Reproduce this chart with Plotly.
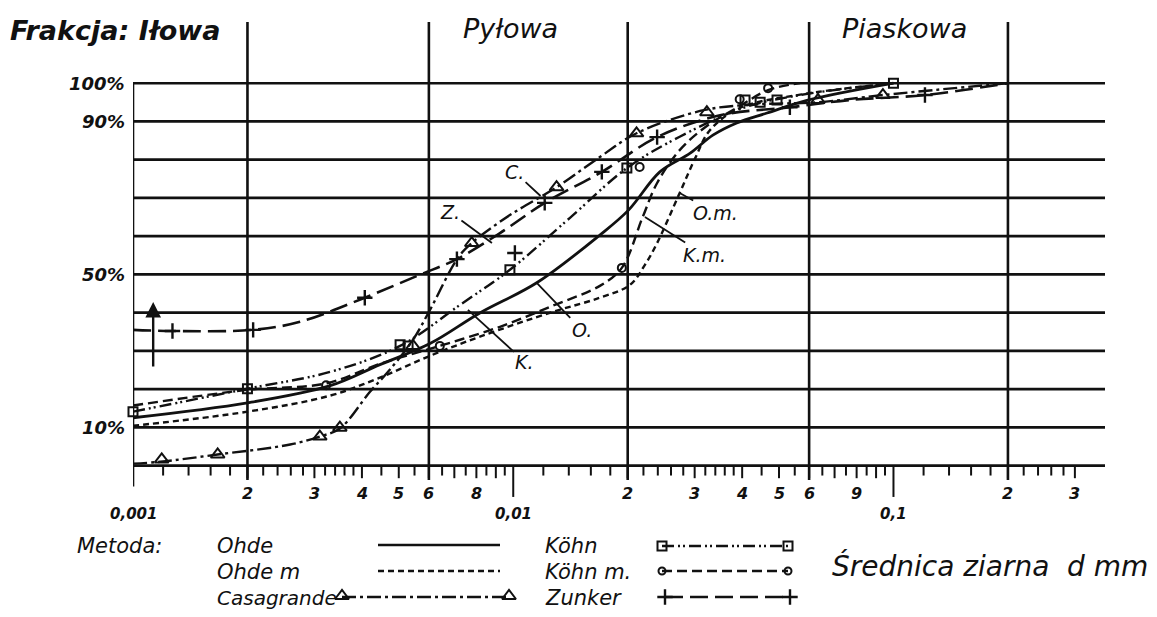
import math
import plotly.graph_objects as go

# ---------------- data: grain diameter d [mm] vs. percent finer [%] ----------------
ohde_d = [0.001, 0.002, 0.0033, 0.00446, 0.00604, 0.00817, 0.01153, 0.0169, 0.0201, 0.0243, 0.0292, 0.0335, 0.0387, 0.0465, 0.0592, 0.1]
ohde_p = [12.5, 16.4, 20.9, 26.4, 31.9, 39.9, 47.8, 60.3, 66.8, 76.8, 81.7, 86.4, 89.6, 92.2, 95.5, 100]

ohdem_d = [0.001, 0.002, 0.0033, 0.00446, 0.00604, 0.00817, 0.0127, 0.0169, 0.0203, 0.0222, 0.0239, 0.0274, 0.0301, 0.0329, 0.0394, 0.0568, 0.1]
ohdem_p = [10.4, 14.1, 18.3, 23.0, 28.7, 33.7, 40.2, 43.9, 47.3, 52.5, 58.2, 71.3, 80.4, 87.7, 93.5, 97.0, 100]

casa_d = [0.001, 0.00118, 0.00167, 0.00259, 0.0031, 0.0035, 0.0042, 0.00474, 0.00545, 0.00604, 0.00715, 0.00778, 0.0098, 0.0130, 0.0169, 0.0211, 0.0319, 0.0446, 0.0633, 0.0938, 0.2]
casa_p = [0.5, 1.0, 2.9, 5.5, 7.6, 9.7, 19.3, 25.1, 32.9, 40.7, 54.3, 58.2, 65.5, 72.8, 80.7, 86.9, 93.0, 94.5, 95.0, 96.9, 100]
casa_mk_d = [0.00119, 0.00167, 0.0031, 0.0035, 0.00545, 0.00778, 0.0130, 0.0211, 0.0323, 0.0633, 0.0938]
casa_mk_p = [1.6, 2.9, 7.6, 9.9, 31.3, 58.2, 72.8, 86.9, 92.4, 95.6, 96.9]

kohn_d = [0.001, 0.002, 0.0033, 0.00504, 0.00724, 0.0098, 0.0141, 0.0199, 0.0274, 0.0407, 0.0568, 0.1]
kohn_p = [14.1, 20.1, 24.5, 31.3, 42.0, 51.2, 64.8, 77.8, 86.0, 93.7, 96.9, 100]
kohn_mk_d = [0.001, 0.002, 0.00504, 0.00529, 0.0098, 0.0199, 0.0407, 0.0446, 0.0494, 0.1]
kohn_mk_p = [14.1, 20.1, 31.6, 31.3, 51.2, 77.8, 95.6, 95.0, 95.6, 100]

kohnm_d = [0.001, 0.002, 0.00322, 0.00446, 0.00641, 0.00923, 0.0127, 0.0169, 0.0193, 0.0219, 0.0239, 0.0274, 0.0323, 0.0394, 0.0468, 0.0568]
kohnm_p = [15.7, 19.8, 21.5, 26.6, 31.3, 36.3, 41.8, 47.0, 51.7, 65.0, 73.9, 82.5, 88.8, 94.0, 98.2, 100]
kohnm_mk_d = [0.00322, 0.00641, 0.0193, 0.0215, 0.0394, 0.0468]
kohnm_mk_p = [21.0, 31.3, 51.7, 78.1, 95.8, 98.7]

zunk_d = [0.001, 0.00127, 0.00207, 0.00275, 0.00407, 0.00568, 0.00711, 0.00923, 0.0121, 0.0171, 0.0239, 0.035, 0.0534, 0.0768, 0.121, 0.2]
zunk_p = [35.5, 35.2, 35.5, 37.6, 43.9, 49.9, 54.0, 60.8, 68.7, 76.8, 85.9, 91.6, 93.7, 95.6, 96.9, 100]
zunk_mk_d = [0.00127, 0.00207, 0.00407, 0.00711, 0.0101, 0.0121, 0.0171, 0.0239, 0.0534, 0.121]
zunk_mk_p = [35.2, 35.5, 43.9, 54.0, 55.6, 68.7, 76.8, 85.9, 93.7, 96.9]

# axis / grid definitions
grid_pct = [0, 10, 20, 30, 40, 50, 60, 70, 80, 90, 100]
fraction_lines = [0.002, 0.006, 0.02, 0.06, 0.2]
decades = [0.001, 0.01, 0.1]
minor_mult = [1.2, 1.4, 1.6, 1.8, 2.2, 2.4, 2.6, 2.8, 3.2, 3.4, 3.6, 3.8, 4.5, 5.5, 6.5, 7.5, 8.5, 9.5]
int_mult = [2, 3, 4, 5, 6, 7, 8, 9]
tick_vals = [0.002, 0.003, 0.004, 0.005, 0.006, 0.008, 0.02, 0.03, 0.04, 0.05, 0.06, 0.08, 0.2, 0.3]
tick_text = ["2", "3", "4", "5", "6", "8", "2", "3", "4", "5", "6", "9", "2", "3"]
decade_text = ["0,001", "0,01", "0,1"]
ylab_vals = [100, 90, 50, 10]
ylab_text = ["100%", "90%", "50%", "10%"]
d_min, d_max = 0.001, 0.36

# ---------------- figure ----------------
W, H = 1157, 617
PX0, PX1, PY0, PY1 = 133, 1105, 22, 500
INK = "#111111"
FONT = "DejaVu Sans"

fig = go.Figure()

def line_trace(xs, ys, width=2.6, dash="solid", xa="x", ya="y", shape="linear"):
    return go.Scatter(x=xs, y=ys, mode="lines", xaxis=xa, yaxis=ya,
                      line=dict(color=INK, width=width, dash=dash, shape=shape),
                      hoverinfo="skip", showlegend=False)

# horizontal grid lines
hx, hy = [], []
for p in grid_pct:
    hx += [d_min, d_max, None]
    hy += [p, p, None]
fig.add_trace(line_trace(hx, hy, width=2.6))

# vertical fraction boundary lines + left axis
vx, vy = [], []
for d in fraction_lines:
    vx += [d, d, None]
    vy += [-3.8, 116, None]
vx += [d_min, d_min, None]
vy += [-5.5, 100, None]
fig.add_trace(line_trace(vx, vy, width=2.6))

# ticks under the axis
tx, ty = [], []
for dec in decades:
    for m in minor_mult:
        v = dec * m
        if v <= 0.31:
            tx += [v, v, None]; ty += [0, -2.6, None]
    for m in int_mult:
        v = dec * m
        if v <= 0.31:
            tx += [v, v, None]; ty += [0, -3.3, None]
    if dec > 0.001:
        tx += [dec, dec, None]; ty += [0, -8.2, None]
fig.add_trace(line_trace(tx, ty, width=2.0))

# curves
DASH_OHDEM = "6px,4px"
DASH_KOHNM = "10px,5px"
DASH_CASA = "14px,4px,3px,4px"
DASH_KOHN = "12px,4px,2px,3px,2px,4px"
DASH_ZUNK = "18px,7px"

fig.add_trace(line_trace(ohde_d, ohde_p, width=2.8, shape="spline"))
fig.add_trace(line_trace(ohdem_d, ohdem_p, width=2.4, dash=DASH_OHDEM, shape="spline"))
fig.add_trace(line_trace(kohnm_d, kohnm_p, width=2.4, dash=DASH_KOHNM, shape="spline"))
fig.add_trace(line_trace(kohn_d, kohn_p, width=2.4, dash=DASH_KOHN, shape="spline"))
fig.add_trace(line_trace(casa_d, casa_p, width=2.4, dash=DASH_CASA, shape="spline"))
fig.add_trace(line_trace(zunk_d, zunk_p, width=2.6, dash=DASH_ZUNK, shape="spline"))

def marker_trace(xs, ys, symbol, size=10, xa="x", ya="y", lw=2):
    return go.Scatter(x=xs, y=ys, mode="markers", xaxis=xa, yaxis=ya, cliponaxis=False,
                      marker=dict(symbol=symbol, size=size, color=INK,
                                  line=dict(color=INK, width=lw)),
                      hoverinfo="skip", showlegend=False)

fig.add_trace(marker_trace(casa_mk_d, casa_mk_p, "triangle-up-open", 12))
fig.add_trace(marker_trace(kohn_mk_d, kohn_mk_p, "square-open", 9))
fig.add_trace(marker_trace(kohnm_mk_d, kohnm_mk_p, "circle-open", 8))
fig.add_trace(marker_trace(zunk_mk_d, zunk_mk_p, "cross-thin-open", 11, lw=2.4))

# ---------------- legend samples (pixel overlay axes x2/y2) ----------------
fig.add_trace(line_trace([378, 500], [545, 545], width=2.6, xa="x2", ya="y2"))
fig.add_trace(line_trace([378, 500], [571, 571], width=2.4, dash=DASH_OHDEM, xa="x2", ya="y2"))
fig.add_trace(line_trace([342, 509], [597, 597], width=2.4, dash=DASH_CASA, xa="x2", ya="y2"))
fig.add_trace(marker_trace([342, 509], [596, 596], "triangle-up-open", 12, xa="x2", ya="y2"))
fig.add_trace(line_trace([662, 788], [546, 546], width=2.4, dash=DASH_KOHN, xa="x2", ya="y2"))
fig.add_trace(marker_trace([662, 788], [546, 546], "square-open", 9, xa="x2", ya="y2"))
fig.add_trace(line_trace([662, 788], [571, 571], width=2.4, dash=DASH_KOHNM, xa="x2", ya="y2"))
fig.add_trace(marker_trace([662, 788], [571, 571], "circle-open", 7, xa="x2", ya="y2"))
fig.add_trace(line_trace([665, 790], [597, 597], width=2.6, dash=DASH_ZUNK, xa="x2", ya="y2"))
fig.add_trace(marker_trace([665, 790], [597, 597], "cross-thin-open", 11, xa="x2", ya="y2", lw=2.4))

ann = []

def txt(x, y, s, size, xanchor="left", xref="x2", yref="y2", bold=False):
    t = "<i>" + s + "</i>"
    if bold:
        t = "<b>" + t + "</b>"
    ann.append(dict(x=x, y=y, xref=xref, yref=yref, text=t, showarrow=False,
                    xanchor=xanchor, yanchor="middle",
                    font=dict(family=FONT, size=size, color=INK)))

# headers
txt(8, 30, "Frakcja: Iłowa", 27, bold=True)
txt(510, 28, "Pyłowa", 27, xanchor="center")
txt(904, 28, "Piaskowa", 27, xanchor="center")

# y labels
for v, s in zip(ylab_vals, ylab_text):
    txt(127, v, s, 18, xanchor="right", xref="x2", yref="y", bold=True)

# x tick labels
for v, s in zip(tick_vals, tick_text):
    txt(math.log10(v), 493, s, 16, xanchor="center", xref="x", yref="y2", bold=True)
for v, s in zip(decades, decade_text):
    txt(math.log10(v), 514, s, 15, xanchor="center", xref="x", yref="y2", bold=True)

# legend text
txt(75, 546, "Metoda:", 21)
txt(215, 546, "Ohde", 21)
txt(215, 572, "Ohde m", 21)
txt(215, 598, "Casagrande", 20)
txt(543, 546, "Köhn", 21)
txt(543, 572, "Köhn m.", 21)
txt(543, 598, "Zunker", 21)
txt(830, 566, "Średnica ziarna  d mm", 28)

# curve labels with pointer lines
def pointer(d, p, s, ax, ay):
    ann.append(dict(x=math.log10(d), y=p, xref="x", yref="y", text="<i>" + s + "</i>",
                    showarrow=True, arrowhead=0, arrowwidth=1.8, arrowcolor=INK,
                    ax=ax, ay=ay, standoff=0,
                    font=dict(family=FONT, size=19, color=INK)))

pointer(0.0118, 70.5, "C.", -26, -24)
pointer(0.00879, 58.2, "Z.", -42, -31)
pointer(0.0274, 71.3, "O.m.", 36, 20)
pointer(0.0222, 65.0, "K.m.", 60, 38)
pointer(0.01153, 47.8, "O.", 45, 47)
pointer(0.0076, 40.7, "K.", 57, 52)

# upward arrow at the Zunker start
ann.append(dict(x=math.log10(0.00113), y=42.8, xref="x", yref="y", text="",
                showarrow=True, arrowhead=2, arrowsize=1.3, arrowwidth=2.4,
                arrowcolor=INK, ax=0, ay=66, standoff=0))

fig.update_layout(
    width=W, height=H, autosize=False,
    margin=dict(l=0, r=0, t=0, b=0),
    paper_bgcolor="white", plot_bgcolor="rgba(0,0,0,0)",
    showlegend=False,
    xaxis=dict(type="log", range=[-3, math.log10(d_max)], domain=[PX0 / W, PX1 / W],
               visible=False, showgrid=False, zeroline=False, fixedrange=True),
    yaxis=dict(range=[-9, 116], domain=[1 - PY1 / H, 1 - PY0 / H],
               visible=False, showgrid=False, zeroline=False, fixedrange=True),
    xaxis2=dict(range=[0, W], domain=[0, 1], anchor="y2", visible=False,
                showgrid=False, zeroline=False, fixedrange=True),
    yaxis2=dict(range=[H, 0], domain=[0, 1], anchor="x2", visible=False,
                showgrid=False, zeroline=False, fixedrange=True),
    annotations=ann,
)

fig.write_html("out.html", config={"displayModeBar": False},
               post_script="document.body.style.margin='0';")
